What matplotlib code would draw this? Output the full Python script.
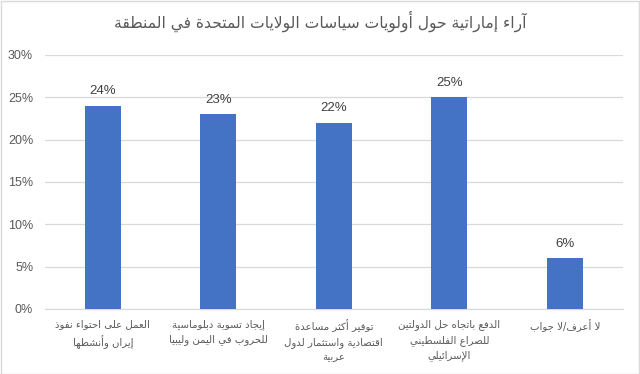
import matplotlib
matplotlib.use("Agg")
import matplotlib.pyplot as plt
from matplotlib.patches import Rectangle

# chart data
title = "آراء إماراتية حول أولويات سياسات الولايات المتحدة في المنطقة"
categories = [
    "العمل على احتواء نفوذ\nإيران وأنشطها",
    "إيجاد تسوية دبلوماسية\nللحروب في اليمن وليبيا",
    "توفير أكثر مساعدة\nاقتصادية واستثمار لدول\nعربية",
    "الدفع باتجاه حل الدولتين\nللصراع الفلسطيني\nالإسرائيلي",
    "لا أعرف/لا جواب",
]
values = [24, 23, 22, 25, 6]
y_ticks = [0, 5, 10, 15, 20, 25, 30]

# matplotlib does no arabic shaping, so map letters to presentation forms
# (isolated code point, number of forms: 1 = no joining, 2 = right joining, 4 = dual)
FORMS = {
    'ء': (0xFE80, 1), 'آ': (0xFE81, 2), 'أ': (0xFE83, 2), 'ؤ': (0xFE85, 2),
    'إ': (0xFE87, 2), 'ئ': (0xFE89, 4), 'ا': (0xFE8D, 2), 'ب': (0xFE8F, 4),
    'ة': (0xFE93, 2), 'ت': (0xFE95, 4), 'ث': (0xFE99, 4), 'ج': (0xFE9D, 4),
    'ح': (0xFEA1, 4), 'خ': (0xFEA5, 4), 'د': (0xFEA9, 2), 'ذ': (0xFEAB, 2),
    'ر': (0xFEAD, 2), 'ز': (0xFEAF, 2), 'س': (0xFEB1, 4), 'ش': (0xFEB5, 4),
    'ص': (0xFEB9, 4), 'ض': (0xFEBD, 4), 'ط': (0xFEC1, 4), 'ظ': (0xFEC5, 4),
    'ع': (0xFEC9, 4), 'غ': (0xFECD, 4), 'ف': (0xFED1, 4), 'ق': (0xFED5, 4),
    'ك': (0xFED9, 4), 'ل': (0xFEDD, 4), 'م': (0xFEE1, 4), 'ن': (0xFEE5, 4),
    'ه': (0xFEE9, 4), 'و': (0xFEED, 2), 'ى': (0xFEEF, 2), 'ي': (0xFEF1, 4),
}
LAM_ALEF = {'آ': 0xFEF5, 'أ': 0xFEF7, 'إ': 0xFEF9, 'ا': 0xFEFB}


def shape_line(line):
    tokens = []
    i = 0
    while i < len(line):
        ch = line[i]
        if ch == 'ل' and i + 1 < len(line) and line[i + 1] in LAM_ALEF:
            tokens.append((LAM_ALEF[line[i + 1]], 2))
            i += 2
        elif ch in FORMS:
            tokens.append(FORMS[ch])
            i += 1
        else:
            tokens.append((ch, 0))
            i += 1
    out = []
    for k, (code, n) in enumerate(tokens):
        if n == 0:
            out.append(code)
            continue
        prev_joins = k > 0 and tokens[k - 1][1] == 4
        next_joins = n == 4 and k + 1 < len(tokens) and tokens[k + 1][1] > 0
        if n == 1:
            c = code
        elif n == 2:
            c = code + 1 if prev_joins else code
        elif prev_joins and next_joins:
            c = code + 3
        elif prev_joins:
            c = code + 1
        elif next_joins:
            c = code + 2
        else:
            c = code
        out.append(chr(c))
    return ''.join(out)[::-1]


def shape(text):
    return '\n'.join(shape_line(l) for l in text.split('\n'))


plt.rcParams['font.family'] = ['DejaVu Sans']

fig = plt.figure(figsize=(6.4, 3.74), dpi=100)
ax = fig.add_axes([0.0703, 0.174, 0.9027, 0.679])

x = list(range(len(values)))
bars = ax.bar(x, values, width=0.31, color='#4472C4', zorder=3)

for b, v in zip(bars, values):
    ax.annotate(f"{v}%", (b.get_x() + b.get_width() / 2, v),
                xytext=(0, 6), textcoords='offset points',
                ha='center', va='bottom', fontsize=9.5, color='#404040',
                family=['Liberation Sans', 'DejaVu Sans'])

ax.set_xlim(-0.5, len(values) - 0.5)
ax.set_ylim(0, 30)
ax.set_yticks(y_ticks)
ax.set_yticklabels([f"{t}%" for t in y_ticks], fontsize=9, color='#595959',
                   family=['Liberation Sans', 'DejaVu Sans'])
ax.set_xticks(x)
ax.set_xticklabels([shape(c) for c in categories], fontsize=7.3, color='#595959',
                   linespacing=1.55)
ax.tick_params(axis='both', length=0)
ax.tick_params(axis='x', pad=7.5)
ax.tick_params(axis='y', pad=8.5)

ax.yaxis.grid(True, color='#D9D9D9', linewidth=0.9, zorder=0)
for side in ['left', 'right', 'top']:
    ax.spines[side].set_visible(False)
ax.spines['bottom'].set_color('#D9D9D9')

fig.text(0.5, 0.944, shape(title), ha='center', va='center',
         fontsize=11.2, color='#595959')

fig.patches.append(Rectangle((0.001, 0.001), 0.997, 0.996, transform=fig.transFigure,
                             fill=False, edgecolor='#D9D9D9', linewidth=1))

fig.savefig('out.png', dpi=100)
